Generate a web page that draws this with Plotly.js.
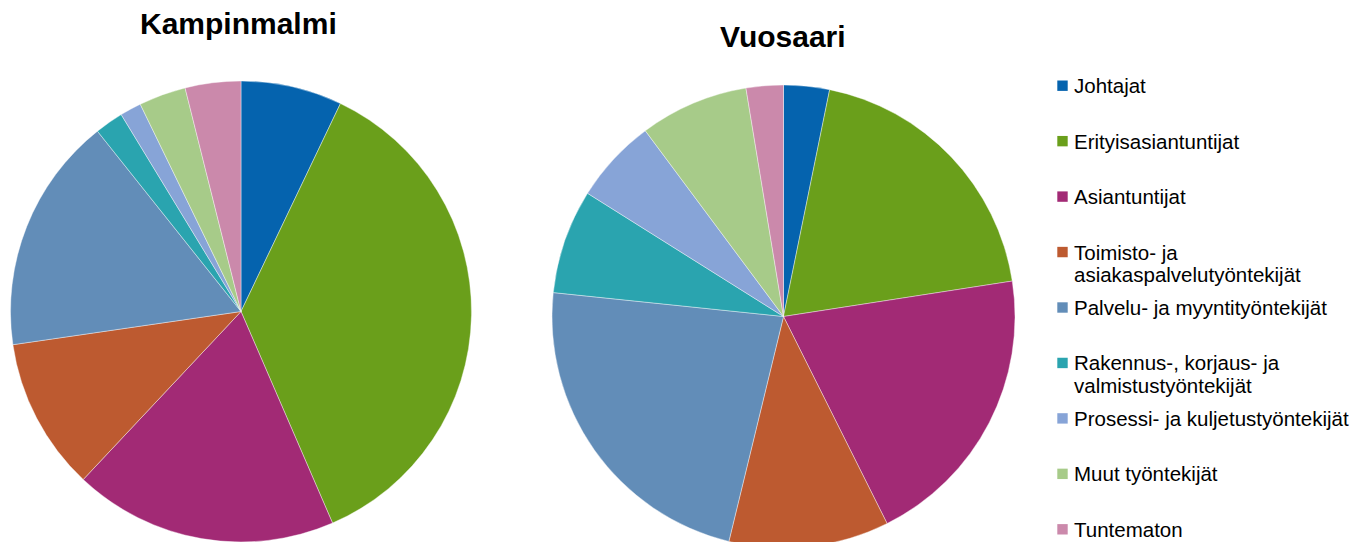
<!DOCTYPE html>
<html>
<head>
<meta charset="utf-8">
<script src="https://cdn.plot.ly/plotly-3.0.1.min.js"></script>
<style>
html,body{margin:0;padding:0;overflow:hidden;background:#fff;}
#chart{width:1367px;height:560px;}
</style>
</head>
<body>
<div id="chart"></div>
<script>
// Data
const categories = [
  "Johtajat",
  "Erityisasiantuntijat",
  "Asiantuntijat",
  "Toimisto- ja asiakaspalvelutyöntekijät",
  "Palvelu- ja myyntityöntekijät",
  "Rakennus-, korjaus- ja valmistustyöntekijät",
  "Prosessi- ja kuljetustyöntekijät",
  "Muut työntekijät",
  "Tuntematon"
];
const legendLines = [
  ["Johtajat"],
  ["Erityisasiantuntijat"],
  ["Asiantuntijat"],
  ["Toimisto- ja", "asiakaspalvelutyöntekijät"],
  ["Palvelu- ja myyntityöntekijät"],
  ["Rakennus-, korjaus- ja", "valmistustyöntekijät"],
  ["Prosessi- ja kuljetustyöntekijät"],
  ["Muut työntekijät"],
  ["Tuntematon"]
];
const kampinmalmi = [7.1, 36.4, 18.5, 10.7, 16.6, 2.0, 1.5, 3.3, 3.9];
const vuosaari    = [3.2, 19.4, 20.1, 11.2, 22.9, 7.3, 5.9, 7.6, 2.6];
const titles = ["Kampinmalmi", "Vuosaari"];
const colors = ["#0563AE", "#6A9F1B", "#A22A75", "#BD5A30", "#628DB8",
                "#2AA4AF", "#87A4D7", "#A7CB89", "#CB89AB"];

const W = 1367, H = 560;
const px = x => x / W;
const py = y => 1 - y / H;

function pieTrace(values, cx, cy, r) {
  return {
    type: "pie",
    labels: categories,
    values: values,
    sort: false,
    direction: "clockwise",
    rotation: 0,
    textinfo: "none",
    hoverinfo: "label+percent",
    marker: {colors: colors, line: {color: "#ffffff", width: 0.4}},
    domain: {x: [px(cx - r), px(cx + r)], y: [py(cy + r), py(cy - r)]},
    showlegend: false
  };
}

const data = [
  pieTrace(kampinmalmi, 241, 311.5, 230.5),
  pieTrace(vuosaari, 783.5, 316.5, 231.5)
];

const annotations = [];
const shapes = [];
const font = "Liberation Sans, Arial, sans-serif";

annotations.push({text: "<b>" + titles[0] + "</b>", x: px(238.5), y: py(24), xref: "paper", yref: "paper",
  xanchor: "center", yanchor: "middle", showarrow: false, font: {family: font, size: 30, color: "#000"}});
annotations.push({text: "<b>" + titles[1] + "</b>", x: px(783), y: py(36), xref: "paper", yref: "paper",
  xanchor: "center", yanchor: "middle", showarrow: false, font: {family: font, size: 30, color: "#000"}});

const legTop = 85.7, legStep = 55.45, lineH = 22.7;
legendLines.forEach((lines, i) => {
  const yc = legTop + i * legStep;
  shapes.push({type: "rect", xref: "paper", yref: "paper",
    x0: px(1057.3), x1: px(1067.7), y0: py(yc + 5.2), y1: py(yc - 5.2),
    fillcolor: colors[i], line: {width: 0}});
  lines.forEach((t, j) => {
    annotations.push({text: t, x: px(1073), y: py(yc + j * lineH), xref: "paper", yref: "paper",
      xanchor: "left", yanchor: "middle", showarrow: false, borderpad: 0,
      font: {family: font, size: 20.5, color: "#000"}});
  });
});

const layout = {
  width: W, height: H,
  margin: {l: 0, r: 0, t: 0, b: 0},
  paper_bgcolor: "#ffffff",
  plot_bgcolor: "#ffffff",
  showlegend: false,
  annotations: annotations,
  shapes: shapes
};

Plotly.newPlot("chart", data, layout, {displayModeBar: false, staticPlot: true});
</script>
</body>
</html>
